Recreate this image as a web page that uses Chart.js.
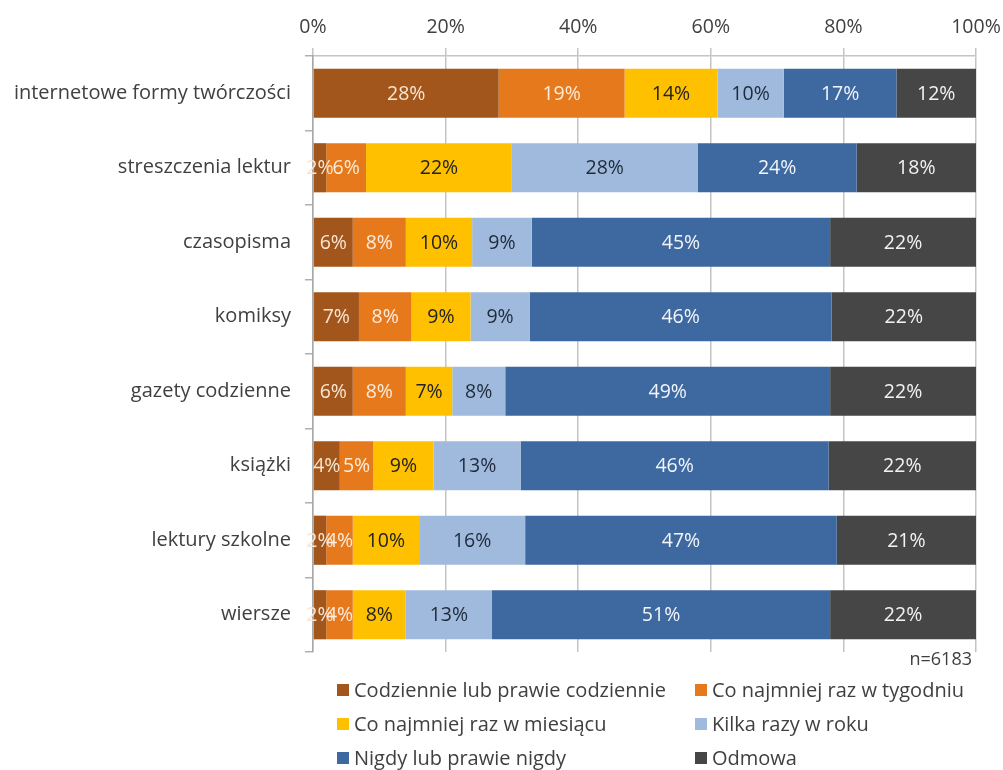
<!DOCTYPE html>
<html><head><meta charset="utf-8">
<script src="https://cdn.jsdelivr.net/npm/chart.js@4.4.1/dist/chart.umd.min.js"></script>
<style>html,body{margin:0;padding:0;background:#fff}#wrap{width:1003px;height:770px;position:relative}</style>
</head><body><div id="wrap"><canvas id="c" width="1003" height="770"></canvas></div>
<script>
const categories = ['internetowe formy twórczości','streszczenia lektur','czasopisma','komiksy','gazety codzienne','książki','lektury szkolne','wiersze'];
const seriesNames = ['Codziennie lub prawie codziennie','Co najmniej raz w tygodniu','Co najmniej raz w miesiącu','Kilka razy w roku','Nigdy lub prawie nigdy','Odmowa'];
const codziennie = [28, 2, 6, 7, 6, 4, 2, 2];
const tydzien    = [19, 6, 8, 8, 8, 5, 4, 4];
const miesiac    = [14, 22, 10, 9, 7, 9, 10, 8];
const rok        = [10, 28, 9, 9, 8, 13, 16, 13];
const nigdy      = [17, 24, 45, 46, 49, 46, 47, 51];
const odmowa     = [12, 18, 22, 22, 22, 22, 21, 22];
const xTickLabels = ['0%','20%','40%','60%','80%','100%'];
const sampleNote = 'n=6183';

const series = [codziennie, tydzien, miesiac, rok, nigdy, odmowa];
const colors = ['#A3561B','#E6791C','#FFC000','#A0BADD','#3E69A0','#464646'];
const labelColors = ['#F8E6D4','#FDEBDC','#222222','#1F2A3A','#F2F5FA','#F2F2F2'];
const FONT = '"Open Sans", Lato, sans-serif';

const rowSums = categories.map((_, i) => series.reduce((s, arr) => s + arr[i], 0));

const datasets = series.map((arr, k) => ({
  label: seriesNames[k],
  data: arr.map((v, i) => v / rowSums[i] * 100),
  raw: arr,
  backgroundColor: colors[k],
  borderWidth: 0,
  categoryPercentage: 1,
  barPercentage: 0.66
}));

const labelPlugin = {
  id: 'barLabels',
  afterDatasetsDraw(chart) {
    const ctx = chart.ctx;
    ctx.save();
    ctx.font = '19.5px ' + FONT;
    ctx.textAlign = 'center';
    ctx.textBaseline = 'middle';
    chart.data.datasets.forEach((ds, k) => {
      const meta = chart.getDatasetMeta(k);
      meta.data.forEach((el, i) => {
        const cx = (el.x + el.base) / 2;
        ctx.fillStyle = labelColors[k];
        ctx.fillText(ds.raw[i] + '%', cx, el.y + 1);
      });
    });
    ctx.restore();
  }
};

const legendPlugin = {
  id: 'customLegend',
  afterDraw(chart) {
    const ctx = chart.ctx;
    ctx.save();
    ctx.textBaseline = 'middle';
    ctx.fillStyle = '#404040';
    ctx.textAlign = 'right';
    ctx.font = '18px ' + FONT;
    ctx.fillText(sampleNote, 972, 660);
    ctx.textAlign = 'left';
    ctx.font = '20px ' + FONT;
    const colX = [337, 695];
    const rowY = [690, 724, 758];
    chart.data.datasets.forEach((ds, k) => {
      const x = colX[k % 2];
      const y = rowY[Math.floor(k / 2)];
      ctx.fillStyle = colors[k];
      ctx.fillRect(x, y - 6, 12, 12);
      ctx.fillStyle = '#404040';
      ctx.fillText(ds.label, x + 17, y + 1);
    });
    ctx.restore();
  }
};

new Chart(document.getElementById('c'), {
  type: 'bar',
  data: { labels: categories, datasets },
  options: {
    responsive: false,
    devicePixelRatio: 1,
    animation: false,
    indexAxis: 'y',
    layout: { padding: { left: 0, top: 0, right: 27, bottom: 118 } },
    plugins: { legend: { display: false }, tooltip: { enabled: false } },
    scales: {
      x: {
        position: 'top',
        stacked: true,
        min: 0, max: 100,
        afterFit(s) { s.height = 56; s.paddingLeft = 0; s.paddingRight = 0; },
        ticks: {
          stepSize: 20,
          maxRotation: 0,
          callback: (v, i) => xTickLabels[i],
          font: { family: FONT, size: 19.5 },
          color: '#404040',
          padding: 9
        },
        grid: { color: '#c4c4c4', tickLength: 8, lineWidth: 1.5 },
        border: { color: '#c4c4c4', width: 1.5 }
      },
      y: {
        stacked: true,
        afterFit(s) { s.width = 313; s.paddingTop = 0; s.paddingBottom = 0; },
        ticks: {
          font: { family: FONT, size: 20 },
          color: '#404040',
          padding: 14
        },
        grid: { drawOnChartArea: false, offset: true, tickLength: 8, color: '#b0b0b0', lineWidth: 1.5 },
        border: { color: '#a8a8a8', width: 1.5 }
      }
    }
  },
  plugins: [labelPlugin, legendPlugin]
});
</script></body></html>
